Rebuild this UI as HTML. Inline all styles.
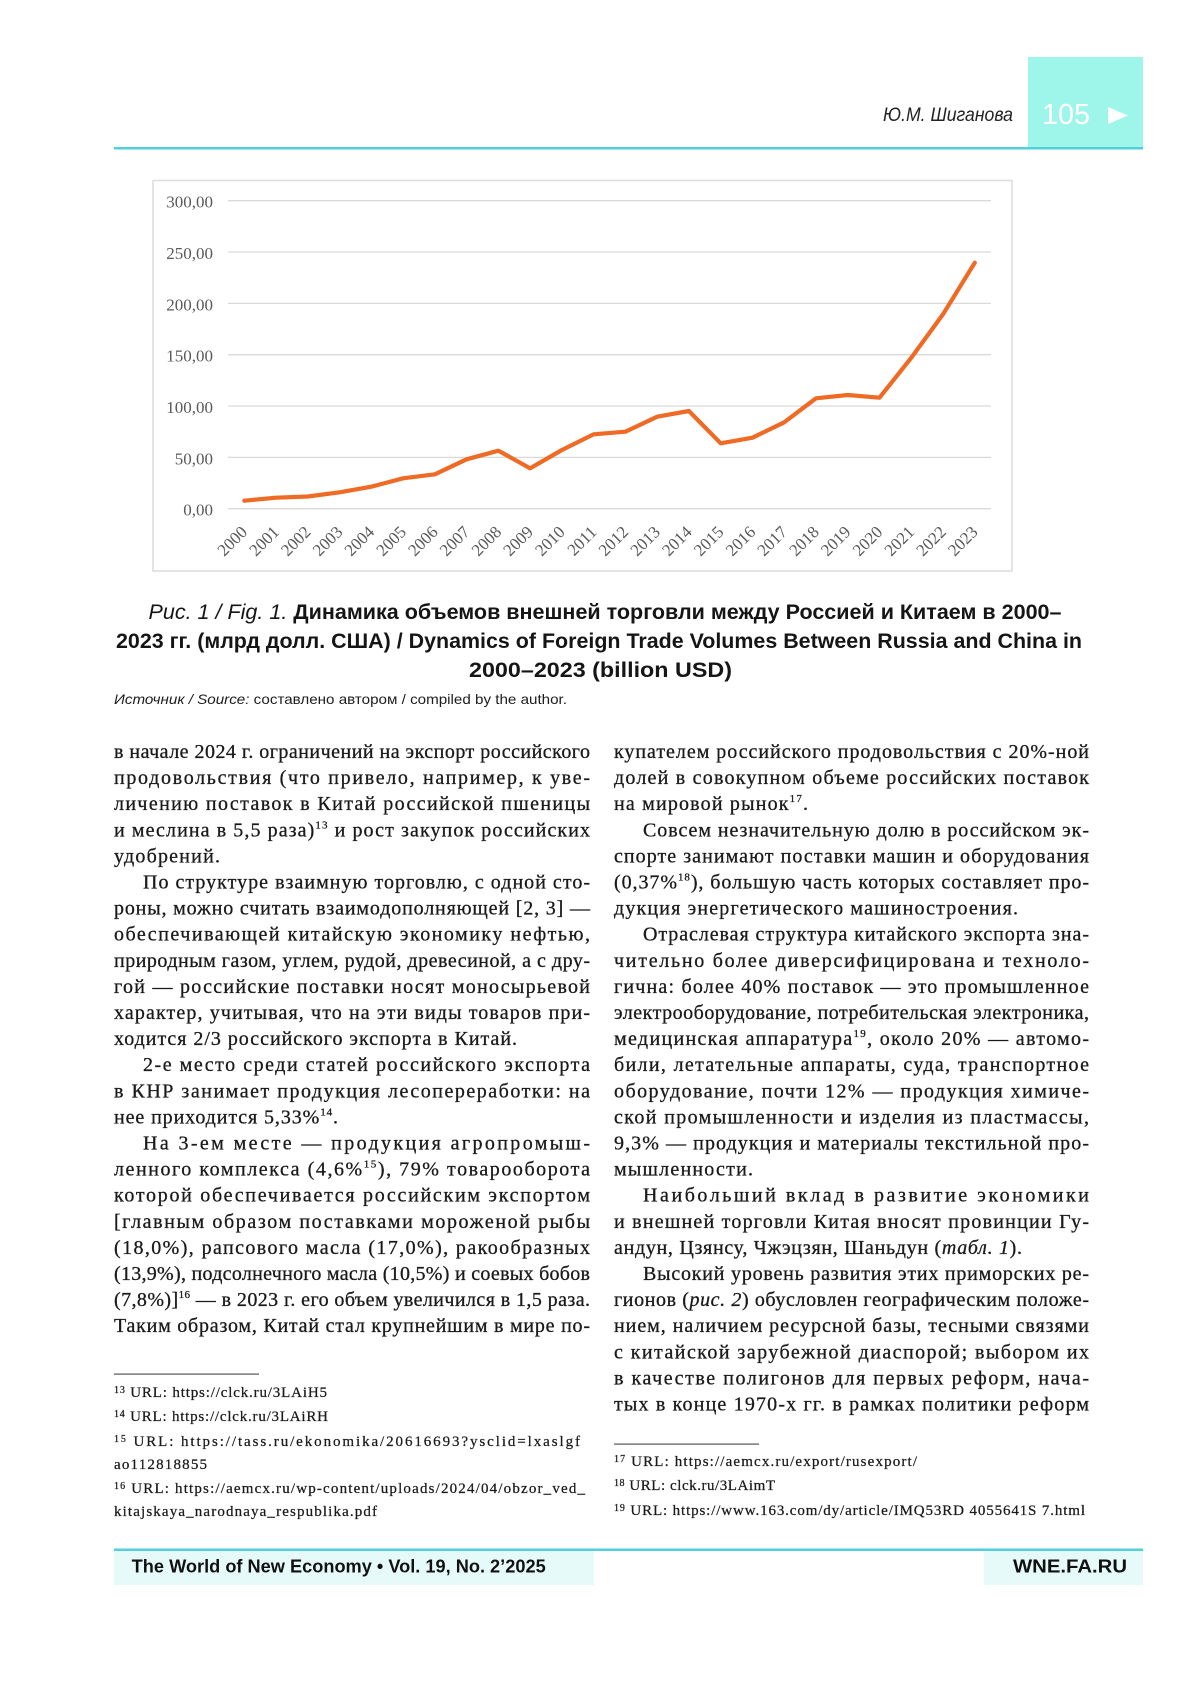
<!DOCTYPE html>
<html><head><meta charset="utf-8"><style>
html,body{margin:0;padding:0;background:#fff;}
svg{display:block;}
.b{font-family:"Liberation Serif","DejaVu Serif",serif;font-size:20px;fill:#1a1a1a;stroke:#1a1a1a;stroke-width:0.3px;}
.f{font-family:"Liberation Serif","DejaVu Serif",serif;font-size:15px;fill:#1a1a1a;stroke:#1a1a1a;stroke-width:0.25px;}
.ax{font-family:"Liberation Serif","DejaVu Serif",serif;font-size:17px;fill:#595959;}
.cap{font-family:"Liberation Sans","DejaVu Sans",sans-serif;font-size:21px;font-weight:bold;fill:#151515;}
.src{font-family:"Liberation Sans","DejaVu Sans",sans-serif;font-size:14px;fill:#1d1d1d;}
.ft{font-family:"Liberation Sans","DejaVu Sans",sans-serif;font-size:18px;font-weight:bold;fill:#111;}
</style></head><body>
<svg width="1200" height="1697" viewBox="0 0 1200 1697" xmlns="http://www.w3.org/2000/svg">
<rect width="1200" height="1697" fill="#fff"/>

<!-- Header -->
<rect x="1028" y="57" width="115" height="91" fill="#9ef5ea"/>
<rect x="114" y="147" width="1029" height="2.5" fill="#52d0da"/>
<text x="883" y="121" font-family="Liberation Sans, DejaVu Sans, sans-serif" font-size="19" font-style="italic" fill="#222" textLength="130" lengthAdjust="spacingAndGlyphs">Ю.М. Шиганова</text>
<text x="1042" y="124" font-family="Liberation Sans, DejaVu Sans, sans-serif" font-size="29" fill="#ffffff" textLength="48" lengthAdjust="spacingAndGlyphs">105</text>
<polygon points="1108,107 1108,124 1128,115.5" fill="#ffffff"/>

<!-- Chart frame -->
<rect x="153" y="180.5" width="859" height="390.5" fill="#fff" stroke="#dedede" stroke-width="1.6"/>
<g stroke="#d9d9d9" stroke-width="1.3">
<line x1="228" y1="200.7" x2="991" y2="200.7"/>
<line x1="228" y1="252.0" x2="991" y2="252.0"/>
<line x1="228" y1="303.4" x2="991" y2="303.4"/>
<line x1="228" y1="354.7" x2="991" y2="354.7"/>
<line x1="228" y1="406.0" x2="991" y2="406.0"/>
<line x1="228" y1="457.4" x2="991" y2="457.4"/>
<line x1="228" y1="508.7" x2="991" y2="508.7"/>
</g>
<g class="ax" text-anchor="end">
<text x="213" y="207.7">300,00</text>
<text x="213" y="259.0">250,00</text>
<text x="213" y="310.4">200,00</text>
<text x="213" y="361.7">150,00</text>
<text x="213" y="413.0">100,00</text>
<text x="213" y="464.4">50,00</text>
<text x="213" y="515.7">0,00</text>
</g>
<g class="ax" text-anchor="end">
<text x="248.3" y="533" transform="rotate(-45 248.3 533)">2000</text>
<text x="280.1" y="533" transform="rotate(-45 280.1 533)">2001</text>
<text x="311.8" y="533" transform="rotate(-45 311.8 533)">2002</text>
<text x="343.6" y="533" transform="rotate(-45 343.6 533)">2003</text>
<text x="375.3" y="533" transform="rotate(-45 375.3 533)">2004</text>
<text x="407.1" y="533" transform="rotate(-45 407.1 533)">2005</text>
<text x="438.9" y="533" transform="rotate(-45 438.9 533)">2006</text>
<text x="470.6" y="533" transform="rotate(-45 470.6 533)">2007</text>
<text x="502.4" y="533" transform="rotate(-45 502.4 533)">2008</text>
<text x="534.1" y="533" transform="rotate(-45 534.1 533)">2009</text>
<text x="565.9" y="533" transform="rotate(-45 565.9 533)">2010</text>
<text x="597.7" y="533" transform="rotate(-45 597.7 533)">2011</text>
<text x="629.4" y="533" transform="rotate(-45 629.4 533)">2012</text>
<text x="661.2" y="533" transform="rotate(-45 661.2 533)">2013</text>
<text x="692.9" y="533" transform="rotate(-45 692.9 533)">2014</text>
<text x="724.7" y="533" transform="rotate(-45 724.7 533)">2015</text>
<text x="756.5" y="533" transform="rotate(-45 756.5 533)">2016</text>
<text x="788.2" y="533" transform="rotate(-45 788.2 533)">2017</text>
<text x="820.0" y="533" transform="rotate(-45 820.0 533)">2018</text>
<text x="851.7" y="533" transform="rotate(-45 851.7 533)">2019</text>
<text x="883.5" y="533" transform="rotate(-45 883.5 533)">2020</text>
<text x="915.3" y="533" transform="rotate(-45 915.3 533)">2021</text>
<text x="947.0" y="533" transform="rotate(-45 947.0 533)">2022</text>
<text x="978.8" y="533" transform="rotate(-45 978.8 533)">2023</text>
</g>
<polyline fill="none" stroke="#ef6a24" stroke-width="4.2" stroke-linejoin="round" stroke-linecap="round"
points="244.3,500.7 276.1,497.7 307.8,496.5 339.6,492.3 371.3,486.7 403.1,478.3 434.9,474.3 466.6,459.3 498.4,450.7 530.1,468.3 561.9,450 593.7,434.3 625.4,431.7 657.2,416.7 688.9,411 720.7,443.3 752.5,437.7 784.2,422.3 816,398.3 847.7,395 879.5,397.7 911.3,357.7 943,314.3 974.8,262.7"/>

<!-- Caption -->
<text class="cap" x="148.5" y="619" textLength="913" lengthAdjust="spacingAndGlyphs"><tspan font-weight="normal" font-style="italic">Рис. 1 / Fig. 1. </tspan>Динамика объемов внешней торговли между Россией и Китаем в 2000–</text>
<text class="cap" x="116" y="648" textLength="966" lengthAdjust="spacingAndGlyphs">2023 гг. (млрд долл. США) / Dynamics of Foreign Trade Volumes Between Russia and China in</text>
<text class="cap" x="469" y="677" textLength="263" lengthAdjust="spacingAndGlyphs">2000–2023 (billion USD)</text>
<text class="src" x="114" y="704" textLength="453" lengthAdjust="spacingAndGlyphs"><tspan font-style="italic">Источник / Source: </tspan>составлено автором / compiled by the author.</text>

<!-- Left column -->
<g class="b">
<text x="114" y="758" textLength="476" lengthAdjust="spacing">в начале 2024 г. ограничений на экспорт российского</text>
<text x="114" y="784.1" textLength="476" lengthAdjust="spacing">продовольствия (что привело, например, к уве-</text>
<text x="114" y="810.2" textLength="476" lengthAdjust="spacing">личению поставок в Китай российской пшеницы</text>
<text x="114" y="836.3" textLength="476" lengthAdjust="spacing">и меслина в 5,5 раза)<tspan font-size="11" dy="-8">13</tspan><tspan dy="8"> и рост закупок российских</tspan></text>
<text x="114" y="862.4" textLength="106" lengthAdjust="spacing">удобрений.</text>
<text x="143" y="888.5" textLength="447" lengthAdjust="spacing">По структуре взаимную торговлю, с одной сто-</text>
<text x="114" y="914.6" textLength="476" lengthAdjust="spacing">роны, можно считать взаимодополняющей [2, 3] —</text>
<text x="114" y="940.7" textLength="476" lengthAdjust="spacing">обеспечивающей китайскую экономику нефтью,</text>
<text x="114" y="966.8" textLength="476" lengthAdjust="spacing">природным газом, углем, рудой, древесиной, а с дру-</text>
<text x="114" y="992.9" textLength="476" lengthAdjust="spacing">гой — российские поставки носят моносырьевой</text>
<text x="114" y="1019" textLength="476" lengthAdjust="spacing">характер, учитывая, что на эти виды товаров при-</text>
<text x="114" y="1045.1" textLength="403" lengthAdjust="spacing">ходится 2/3 российского экспорта в Китай.</text>
<text x="143" y="1071.2" textLength="447" lengthAdjust="spacing">2-е место среди статей российского экспорта</text>
<text x="114" y="1097.3" textLength="476" lengthAdjust="spacing">в КНР занимает продукция лесопереработки: на</text>
<text x="114" y="1123.4" textLength="224" lengthAdjust="spacing">нее приходится 5,33%<tspan font-size="11" dy="-8">14</tspan><tspan dy="8">.</tspan></text>
<text x="143" y="1149.5" textLength="447" lengthAdjust="spacing">На 3-ем месте — продукция агропромыш-</text>
<text x="114" y="1175.6" textLength="476" lengthAdjust="spacing">ленного комплекса (4,6%<tspan font-size="11" dy="-8">15</tspan><tspan dy="8">), 79% товарооборота</tspan></text>
<text x="114" y="1201.7" textLength="476" lengthAdjust="spacing">которой обеспечивается российским экспортом</text>
<text x="114" y="1227.8" textLength="476" lengthAdjust="spacing">[главным образом поставками мороженой рыбы</text>
<text x="114" y="1253.9" textLength="476" lengthAdjust="spacing">(18,0%), рапсового масла (17,0%), ракообразных</text>
<text x="114" y="1280" textLength="476" lengthAdjust="spacing">(13,9%), подсолнечного масла (10,5%) и соевых бобов</text>
<text x="114" y="1306.1" textLength="476" lengthAdjust="spacing">(7,8%)]<tspan font-size="11" dy="-8">16</tspan><tspan dy="8"> — в 2023 г. его объем увеличился в 1,5 раза.</tspan></text>
<text x="114" y="1332.2" textLength="476" lengthAdjust="spacing">Таким образом, Китай стал крупнейшим в мире по-</text>
</g>

<!-- Right column -->
<g class="b">
<text x="614" y="758" textLength="475" lengthAdjust="spacing">купателем российского продовольствия с 20%-ной</text>
<text x="614" y="784.1" textLength="475" lengthAdjust="spacing">долей в совокупном объеме российских поставок</text>
<text x="614" y="810.2" textLength="194" lengthAdjust="spacing">на мировой рынок<tspan font-size="11" dy="-8">17</tspan><tspan dy="8">.</tspan></text>
<text x="643" y="836.3" textLength="446" lengthAdjust="spacing">Совсем незначительную долю в российском эк-</text>
<text x="614" y="862.4" textLength="475" lengthAdjust="spacing">спорте занимают поставки машин и оборудования</text>
<text x="614" y="888.5" textLength="475" lengthAdjust="spacing">(0,37%<tspan font-size="11" dy="-8">18</tspan><tspan dy="8">), большую часть которых составляет про-</tspan></text>
<text x="614" y="914.6" textLength="404" lengthAdjust="spacing">дукция энергетического машиностроения.</text>
<text x="643" y="940.7" textLength="446" lengthAdjust="spacing">Отраслевая структура китайского экспорта зна-</text>
<text x="614" y="966.8" textLength="475" lengthAdjust="spacing">чительно более диверсифицирована и техноло-</text>
<text x="614" y="992.9" textLength="475" lengthAdjust="spacing">гична: более 40% поставок — это промышленное</text>
<text x="614" y="1019" textLength="475" lengthAdjust="spacing">электрооборудование, потребительская электроника,</text>
<text x="614" y="1045.1" textLength="475" lengthAdjust="spacing">медицинская аппаратура<tspan font-size="11" dy="-8">19</tspan><tspan dy="8">, около 20% — автомо-</tspan></text>
<text x="614" y="1071.2" textLength="475" lengthAdjust="spacing">били, летательные аппараты, суда, транспортное</text>
<text x="614" y="1097.3" textLength="475" lengthAdjust="spacing">оборудование, почти 12% — продукция химиче-</text>
<text x="614" y="1123.4" textLength="475" lengthAdjust="spacing">ской промышленности и изделия из пластмассы,</text>
<text x="614" y="1149.5" textLength="475" lengthAdjust="spacing">9,3% — продукция и материалы текстильной про-</text>
<text x="614" y="1175.6" textLength="139" lengthAdjust="spacing">мышленности.</text>
<text x="643" y="1201.7" textLength="446" lengthAdjust="spacing">Наибольший вклад в развитие экономики</text>
<text x="614" y="1227.8" textLength="475" lengthAdjust="spacing">и внешней торговли Китая вносят провинции Гу-</text>
<text x="614" y="1253.9" textLength="408" lengthAdjust="spacing">андун, Цзянсу, Чжэцзян, Шаньдун (<tspan font-style="italic">табл. 1</tspan>).</text>
<text x="643" y="1280" textLength="446" lengthAdjust="spacing">Высокий уровень развития этих приморских ре-</text>
<text x="614" y="1306.1" textLength="475" lengthAdjust="spacing">гионов (<tspan font-style="italic">рис. 2</tspan>) обусловлен географическим положе-</text>
<text x="614" y="1332.2" textLength="475" lengthAdjust="spacing">нием, наличием ресурсной базы, тесными связями</text>
<text x="614" y="1358.3" textLength="475" lengthAdjust="spacing">с китайской зарубежной диаспорой; выбором их</text>
<text x="614" y="1384.4" textLength="475" lengthAdjust="spacing">в качестве полигонов для первых реформ, нача-</text>
<text x="614" y="1410.5" textLength="475" lengthAdjust="spacing">тых в конце 1970-х гг. в рамках политики реформ</text>
</g>

<!-- Footnotes -->
<rect x="114" y="1373.5" width="145" height="1.2" fill="#555"/>
<rect x="614" y="1443.5" width="145" height="1.2" fill="#555"/>
<g class="f">
<text x="114" y="1397" textLength="213" lengthAdjust="spacing"><tspan font-size="10" dy="-4">13</tspan><tspan dy="4"> URL: https://clck.ru/3LAiH5</tspan></text>
<text x="114" y="1421" textLength="214" lengthAdjust="spacing"><tspan font-size="10" dy="-4">14</tspan><tspan dy="4"> URL: https://clck.ru/3LAiRH</tspan></text>
<text x="114" y="1446" textLength="466" lengthAdjust="spacing"><tspan font-size="10" dy="-4">15</tspan><tspan dy="4"> URL: https://tass.ru/ekonomika/20616693?ysclid=lxaslgf</tspan></text>
<text x="114" y="1469" textLength="93" lengthAdjust="spacing">ao112818855</text>
<text x="114" y="1493" textLength="471" lengthAdjust="spacing"><tspan font-size="10" dy="-4">16</tspan><tspan dy="4"> URL: https://aemcx.ru/wp-content/uploads/2024/04/obzor_ved_</tspan></text>
<text x="114" y="1516" textLength="263" lengthAdjust="spacing">kitajskaya_narodnaya_respublika.pdf</text>
<text x="614" y="1466" textLength="303" lengthAdjust="spacing"><tspan font-size="10" dy="-4">17</tspan><tspan dy="4"> URL: https://aemcx.ru/export/rusexport/</tspan></text>
<text x="614" y="1490" textLength="161" lengthAdjust="spacing"><tspan font-size="10" dy="-4">18</tspan><tspan dy="4"> URL: clck.ru/3LAimT</tspan></text>
<text x="614" y="1515" textLength="471" lengthAdjust="spacing"><tspan font-size="10" dy="-4">19</tspan><tspan dy="4"> URL: https://www.163.com/dy/article/IMQ53RD 4055641S 7.html</tspan></text>
</g>

<!-- Footer -->
<rect x="114" y="1551" width="480" height="34" fill="#e6fbf9"/>
<rect x="984" y="1551" width="159" height="34" fill="#e6fbf9"/>
<rect x="114" y="1548.5" width="1029" height="2.5" fill="#52d0da"/>
<text class="ft" x="131.7" y="1572.3" textLength="414" lengthAdjust="spacingAndGlyphs">The World of New Economy • Vol. 19, No. 2’2025</text>
<text class="ft" x="1013" y="1572.3" textLength="114" lengthAdjust="spacingAndGlyphs">WNE.FA.RU</text>
</svg>
</body></html>
